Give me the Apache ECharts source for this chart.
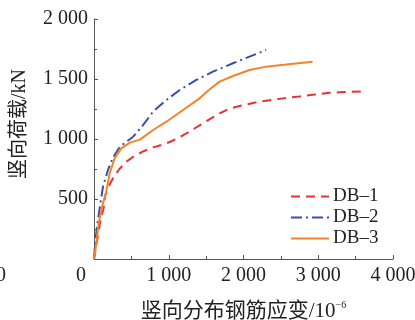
<!DOCTYPE html>
<html>
<head>
<meta charset="utf-8">
<script src="https://cdn.jsdelivr.net/npm/echarts@6/dist/echarts.min.js"></script>
<style>
  html, body { margin: 0; padding: 0; background: #fff; }
  #container { width: 415px; height: 320px; }
</style>
</head>
<body>
<div id="container"></div>
<script>
// 竖向分布钢筋应变 (x, 10^-6) vs 竖向荷载 (y, kN)
var seriesNames = ['DB\u20131', 'DB\u20132', 'DB\u20133'];

var db1 = [
  [0, 0], [40, 150], [80, 300], [130, 430], [150, 530], [200, 610], [260, 680],
  [340, 750], [430, 810], [524, 852], [650, 895], [791, 930], [900, 950],
  [1013, 975], [1130, 1010], [1236, 1047], [1458, 1131], [1680, 1214],
  [1800, 1250], [1947, 1275], [2213, 1311], [2436, 1331], [2600, 1345],
  [2750, 1355], [2950, 1370], [3150, 1385], [3350, 1392], [3570, 1395]
];

var db2 = [
  [0, 0], [18, 158], [53, 325], [80, 440], [120, 602], [187, 742], [253, 845],
  [347, 936], [430, 975], [524, 1019], [658, 1117], [791, 1228], [969, 1325],
  [1147, 1408], [1369, 1492], [1591, 1561], [1858, 1631], [2080, 1686],
  [2302, 1742]
];

var db3 = [
  [0, 0], [31, 131], [62, 297], [120, 464], [164, 561], [209, 714], [276, 839],
  [364, 922], [480, 970], [613, 995], [791, 1075], [969, 1144], [1191, 1242],
  [1413, 1339], [1540, 1410], [1680, 1478], [1858, 1525], [2080, 1575],
  [2302, 1603], [2569, 1620], [2924, 1644]
];

var lineColors = ['#ec2f36', '#3a4fa6', '#f5832a'];
var fontFam = '"Liberation Serif", "DejaVu Serif", "Noto Sans CJK SC", serif';

var dom = document.getElementById('container');
var myChart = echarts.init(dom, null, { renderer: 'canvas' });

var axisColor = '#555';

function thousands(v) {
  if (v === 0) return '';
  return String(v).replace(/(\d)(\d{3})$/, '$1 $2');
}

var option = {
  backgroundColor: '#fff',
  animation: false,
  textStyle: { fontFamily: fontFam, color: '#222' },
  grid: { left: 94, right: 22, top: 19, bottom: 61, outerBoundsMode: 'none', containLabel: false },
  legend: {
    orient: 'vertical',
    left: 285,
    top: 182,
    itemWidth: 38,
    itemHeight: 14,
    itemGap: 2,
    itemStyle: { opacity: 0 },
    textStyle: { fontFamily: fontFam, fontSize: 19, color: '#222', padding: [0, 0, 0, -1] },
    data: seriesNames
  },
  xAxis: {
    type: 'value',
    min: 0,
    max: 4000,
    interval: 1000,
    name: '{a|竖向分布钢筋应变/10}{s|−6}',
    nameLocation: 'middle',
    nameGap: 41,
    nameTextStyle: {
      rich: {
        a: { fontFamily: fontFam, fontSize: 21, color: '#222', lineHeight: 22 },
        s: { fontFamily: fontFam, fontSize: 10, color: '#222', verticalAlign: 'top', lineHeight: 22 }
      }
    },
    axisLine: { show: true, lineStyle: { color: axisColor, width: 1 } },
    axisTick: { show: true, inside: true, length: 4, lineStyle: { color: axisColor } },
    minorTick: { show: true, splitNumber: 2, length: 3, lineStyle: { color: axisColor } },
    splitLine: { show: false },
    axisLabel: {
      margin: 7,
      fontSize: 20,
      fontFamily: fontFam,
      color: '#222',
      formatter: thousands
    }
  },
  yAxis: {
    type: 'value',
    min: 0,
    max: 2000,
    interval: 500,
    axisLine: { show: true, lineStyle: { color: axisColor, width: 1 } },
    axisTick: { show: true, inside: true, length: 4, lineStyle: { color: axisColor } },
    minorTick: { show: true, splitNumber: 2, length: 3, lineStyle: { color: axisColor } },
    splitLine: { show: false },
    axisLabel: {
      margin: 6,
      fontSize: 20,
      fontFamily: fontFam,
      color: '#222',
      formatter: thousands
    }
  },
  graphic: [
    {
      type: 'text',
      left: 76, top: 266,
      style: { text: '0', font: '20px ' + fontFam, fill: '#222' }
    },
    {
      type: 'text',
      left: -4, top: 266,
      style: { text: '0', font: '20px ' + fontFam, fill: '#222' }
    },
    {
      type: 'text',
      x: 20, y: 124,
      rotation: Math.PI / 2,
      style: {
        text: '竖向荷载/kN',
        font: '20px ' + fontFam,
        fill: '#222',
        align: 'center',
        verticalAlign: 'middle'
      }
    }
  ],
  series: [
    {
      name: seriesNames[0],
      type: 'line',
      symbol: 'none',
      data: db1,
      lineStyle: { color: lineColors[0], width: 2, type: [9, 6] },
      itemStyle: { color: lineColors[0] }
    },
    {
      name: seriesNames[1],
      type: 'line',
      symbol: 'none',
      data: db2,
      lineStyle: { color: lineColors[1], width: 2, type: [11, 4, 2, 4] },
      itemStyle: { color: lineColors[1] }
    },
    {
      name: seriesNames[2],
      type: 'line',
      symbol: 'none',
      data: db3,
      lineStyle: { color: lineColors[2], width: 2 },
      itemStyle: { color: lineColors[2] }
    }
  ]
};

myChart.setOption(option);
window.onresize = myChart.resize;
</script>
</body>
</html>
